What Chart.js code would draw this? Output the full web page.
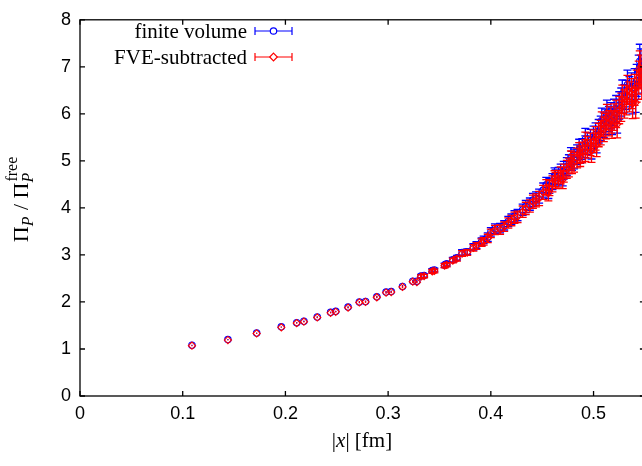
<!DOCTYPE html>
<html>
<head>
<meta charset="utf-8">
<script src="https://cdn.jsdelivr.net/npm/chart.js@4"></script>
<style>
  html, body { margin: 0; padding: 0; background: #fff; overflow: hidden; }
  canvas { display: block; }
</style>
</head>
<body>
<canvas id="piChart" width="650" height="466"></canvas>
<script>
// |x| in fm
const xVals = [
  0.109, 0.144, 0.172, 0.196, 0.211, 0.218, 0.231, 0.244, 0.249, 0.261,
  0.272, 0.278, 0.289, 0.298, 0.303, 0.314, 0.324, 0.328, 0.332, 0.335,
  0.343, 0.345, 0.355, 0.357, 0.363, 0.367, 0.372, 0.377, 0.383, 0.386,
  0.391, 0.393, 0.397, 0.400, 0.404, 0.409, 0.413, 0.417, 0.420, 0.423,
  0.426, 0.431, 0.434, 0.438, 0.441, 0.444, 0.447, 0.451, 0.454, 0.457,
  0.460, 0.463, 0.466, 0.468, 0.471, 0.474, 0.476, 0.479, 0.481, 0.484,
  0.487, 0.489, 0.492, 0.494, 0.497, 0.500, 0.502, 0.505, 0.507, 0.510,
  0.512, 0.515, 0.517, 0.520, 0.522, 0.525, 0.527, 0.530, 0.532, 0.535,
  0.537, 0.540, 0.542, 0.544, 0.545, 0.547, 0.498, 0.518, 0.528, 0.538,
  0.486, 0.508, 0.470, 0.478, 0.492, 0.503, 0.513, 0.523, 0.533, 0.541,
  0.546, 0.456, 0.462
];

// finite volume
const fvY = [
  1.08, 1.20, 1.34, 1.47, 1.56, 1.59, 1.68, 1.78, 1.80, 1.89,
  2.00, 2.01, 2.11, 2.21, 2.22, 2.33, 2.44, 2.44, 2.55, 2.56,
  2.67, 2.68, 2.78, 2.81, 2.90, 2.94, 3.05, 3.07, 3.17, 3.21,
  3.28, 3.32, 3.38, 3.49, 3.56, 3.57, 3.63, 3.71, 3.76, 3.82,
  3.85, 3.96, 4.03, 4.08, 4.17, 4.20, 4.25, 4.38, 4.49, 4.47,
  4.56, 4.64, 4.68, 4.75, 4.80, 4.88, 4.93, 5.00, 5.04, 5.13,
  5.17, 5.25, 5.30, 5.37, 5.43, 5.50, 5.56, 5.63, 5.69, 5.76,
  5.83, 5.89, 5.96, 6.03, 6.10, 6.18, 6.25, 6.32, 6.40, 6.47,
  6.55, 6.63, 6.71, 6.90, 7.12, 6.80, 5.28, 5.84, 6.42, 6.32,
  5.24, 5.86, 4.66, 5.08, 5.46, 5.42, 6.02, 5.88, 6.62, 6.36,
  7.02, 4.36, 4.68
];
const fvErr = [
  0.01, 0.01, 0.01, 0.01, 0.015, 0.015, 0.015, 0.015, 0.015, 0.02,
  0.02, 0.02, 0.02, 0.025, 0.025, 0.03, 0.03, 0.03, 0.035, 0.035,
  0.04, 0.04, 0.045, 0.045, 0.05, 0.05, 0.06, 0.06, 0.07, 0.07,
  0.08, 0.08, 0.09, 0.09, 0.10, 0.10, 0.10, 0.11, 0.11, 0.12,
  0.12, 0.12, 0.13, 0.13, 0.14, 0.14, 0.15, 0.15, 0.16, 0.16,
  0.17, 0.17, 0.18, 0.18, 0.19, 0.19, 0.20, 0.20, 0.21, 0.21,
  0.22, 0.22, 0.23, 0.23, 0.24, 0.24, 0.25, 0.25, 0.26, 0.26,
  0.27, 0.27, 0.28, 0.28, 0.29, 0.29, 0.30, 0.30, 0.31, 0.32,
  0.32, 0.33, 0.34, 0.35, 0.36, 0.36, 0.24, 0.28, 0.30, 0.32,
  0.22, 0.26, 0.19, 0.20, 0.23, 0.25, 0.27, 0.29, 0.31, 0.33,
  0.36, 0.16, 0.17
];

// FVE-subtracted
const subY = [
  1.07, 1.19, 1.33, 1.46, 1.55, 1.58, 1.67, 1.77, 1.79, 1.88,
  1.99, 2.00, 2.10, 2.20, 2.21, 2.32, 2.43, 2.42, 2.54, 2.55,
  2.65, 2.66, 2.77, 2.79, 2.88, 2.92, 3.03, 3.05, 3.15, 3.19,
  3.26, 3.29, 3.35, 3.46, 3.53, 3.54, 3.60, 3.68, 3.73, 3.79,
  3.81, 3.92, 3.99, 4.04, 4.13, 4.16, 4.20, 4.33, 4.44, 4.42,
  4.51, 4.58, 4.62, 4.69, 4.74, 4.82, 4.86, 4.93, 4.97, 5.06,
  5.10, 5.18, 5.22, 5.29, 5.35, 5.42, 5.48, 5.55, 5.60, 5.67,
  5.74, 5.80, 5.87, 5.93, 6.00, 6.08, 6.14, 6.21, 6.29, 6.36,
  6.43, 6.51, 6.59, 6.77, 6.98, 6.67, 5.21, 5.76, 6.31, 6.22,
  5.17, 5.78, 4.60, 5.01, 5.38, 5.34, 5.93, 5.78, 6.51, 6.24,
  6.89, 4.31, 4.62
];
const subErr = [
  0.01, 0.01, 0.01, 0.01, 0.015, 0.015, 0.015, 0.015, 0.015, 0.02,
  0.02, 0.02, 0.02, 0.025, 0.025, 0.03, 0.03, 0.03, 0.035, 0.035,
  0.04, 0.04, 0.045, 0.045, 0.05, 0.05, 0.06, 0.06, 0.07, 0.07,
  0.08, 0.08, 0.09, 0.09, 0.10, 0.10, 0.10, 0.11, 0.11, 0.12,
  0.12, 0.12, 0.13, 0.13, 0.14, 0.14, 0.15, 0.15, 0.16, 0.16,
  0.17, 0.17, 0.18, 0.18, 0.19, 0.19, 0.20, 0.20, 0.21, 0.21,
  0.22, 0.22, 0.23, 0.23, 0.24, 0.24, 0.25, 0.25, 0.26, 0.26,
  0.27, 0.27, 0.28, 0.28, 0.29, 0.29, 0.30, 0.30, 0.31, 0.32,
  0.32, 0.33, 0.34, 0.35, 0.36, 0.36, 0.24, 0.28, 0.30, 0.32,
  0.22, 0.26, 0.19, 0.20, 0.23, 0.25, 0.27, 0.29, 0.31, 0.33,
  0.36, 0.16, 0.17
];

const xTicks = [0, 0.1, 0.2, 0.3, 0.4, 0.5];
const yTicks = [0, 1, 2, 3, 4, 5, 6, 7, 8];
const seriesLabels = ['finite volume', 'FVE-subtracted'];
const seriesColors = ['#0000ff', '#ff0000'];
const seriesY = [fvY, subY];
const seriesErr = [fvErr, subErr];

const serif = '"Liberation Serif", "Times New Roman", serif';
const sans = '"Liberation Sans", Arial, sans-serif';

// vertical error bars, drawn just before each dataset's markers
const errorBars = {
  id: 'errorBars',
  beforeDatasetDraw(chart, args) {
    const i = args.index;
    const xs = chart.scales.x, ys = chart.scales.y;
    const c = chart.ctx;
    c.save();
    c.strokeStyle = seriesColors[i];
    c.lineWidth = 1.3;
    xVals.forEach((x, k) => {
      const px = xs.getPixelForValue(x);
      const top = ys.getPixelForValue(seriesY[i][k] + seriesErr[i][k]);
      const bot = ys.getPixelForValue(seriesY[i][k] - seriesErr[i][k]);
      c.beginPath();
      c.moveTo(px, top); c.lineTo(px, bot);
      if (bot - top > 3) {
        c.moveTo(px - 4, top); c.lineTo(px + 4, top);
        c.moveTo(px - 4, bot); c.lineTo(px + 4, bot);
      }
      c.stroke();
    });
    c.restore();
  }
};

// gnuplot style frame with inward ticks on all sides, titles and key
const frameAndKey = {
  id: 'frameAndKey',
  afterDraw(chart) {
    const c = chart.ctx;
    const a = chart.chartArea;
    const xs = chart.scales.x, ys = chart.scales.y;
    c.save();
    c.strokeStyle = '#000';
    c.lineWidth = 1.3;
    c.strokeRect(a.left, a.top, a.right - a.left, a.bottom - a.top);
    c.beginPath();
    xs.ticks.forEach(t => {
      const px = xs.getPixelForValue(t.value);
      c.moveTo(px, a.bottom); c.lineTo(px, a.bottom - 5);
      c.moveTo(px, a.top); c.lineTo(px, a.top + 5);
    });
    ys.ticks.forEach(t => {
      const py = ys.getPixelForValue(t.value);
      c.moveTo(a.left, py); c.lineTo(a.left + 5, py);
      c.moveTo(a.right, py); c.lineTo(a.right - 5, py);
    });
    c.stroke();

    c.fillStyle = '#000';
    c.textBaseline = 'alphabetic';

    // x title: |x| [fm]
    const pieces = [
      ['|', '21px ' + serif],
      ['x', 'italic 21px ' + serif],
      ['| [fm]', '21px ' + serif]
    ];
    let w = 0;
    pieces.forEach(p => { c.font = p[1]; w += c.measureText(p[0]).width; });
    let cx = 362 - w / 2;
    c.textAlign = 'left';
    pieces.forEach(p => { c.font = p[1]; c.fillText(p[0], cx, 447); cx += c.measureText(p[0]).width; });

    // y title: Pi_P / Pi_P^free
    c.save();
    c.translate(28, 200);
    c.rotate(-Math.PI / 2);
    const big = '22px ' + serif, small = '16px ' + serif, smallIt = 'italic 16px ' + serif;
    c.font = big; const wPi = c.measureText('\u03A0').width; const wSl = c.measureText(' / ').width;
    c.font = smallIt; const wP = c.measureText('P').width;
    c.font = small; const wFree = c.measureText('free').width;
    const total = wPi + wP + 1 + wSl + wPi + Math.max(wP, wFree);
    let tx = -total / 2;
    c.font = big; c.fillText('\u03A0', tx, 0); tx += wPi;
    c.font = smallIt; c.fillText('P', tx, 5); tx += wP + 1;
    c.font = big; c.fillText(' / ', tx, 0); tx += wSl;
    c.fillText('\u03A0', tx, 0); tx += wPi;
    c.font = smallIt; c.fillText('P', tx, 5);
    c.font = small; c.fillText('free', tx + 1, -11);
    c.restore();

    // key
    c.font = '21px ' + serif;
    c.textAlign = 'right';
    c.textBaseline = 'middle';
    [31, 57].forEach((ky, i) => {
      c.fillStyle = '#000';
      c.fillText(seriesLabels[i], 247, ky + 1);
      c.strokeStyle = seriesColors[i];
      c.lineWidth = 1.2;
      c.beginPath();
      c.moveTo(255, ky); c.lineTo(292, ky);
      c.moveTo(255, ky - 4); c.lineTo(255, ky + 4);
      c.moveTo(292, ky - 4); c.lineTo(292, ky + 4);
      c.stroke();
      c.fillStyle = '#fff';
      c.beginPath();
      if (i === 0) {
        c.arc(273.5, ky, 3.2, 0, Math.PI * 2);
      } else {
        c.moveTo(273.5, ky - 3.8); c.lineTo(277.3, ky);
        c.lineTo(273.5, ky + 3.8); c.lineTo(269.7, ky); c.closePath();
      }
      c.fill();
      c.stroke();
    });
    c.restore();
  }
};

new Chart(document.getElementById('piChart'), {
  type: 'scatter',
  data: {
    datasets: [
      {
        label: seriesLabels[0],
        data: xVals.map((x, k) => ({ x: x, y: fvY[k] })),
        borderColor: seriesColors[0],
        backgroundColor: 'rgba(255,255,255,0)',
        pointStyle: 'circle',
        pointRadius: 3.2,
        pointBorderWidth: 1.1,
        order: 2
      },
      {
        label: seriesLabels[1],
        data: xVals.map((x, k) => ({ x: x, y: subY[k] })),
        borderColor: seriesColors[1],
        backgroundColor: 'rgba(255,255,255,0)',
        pointStyle: 'rectRot',
        pointRadius: 3.6,
        pointBorderWidth: 1.1,
        order: 1
      }
    ]
  },
  options: {
    responsive: false,
    animation: false,
    layout: { padding: { left: 0, top: 12, right: 4.6, bottom: 0 } },
    plugins: { legend: { display: false }, tooltip: { enabled: false } },
    scales: {
      x: {
        type: 'linear',
        min: 0,
        max: 0.55,
        grid: { display: false, drawTicks: false, tickLength: 0 },
        border: { display: false },
        ticks: {
          padding: 7,
          color: '#000',
          font: { family: sans, size: 18 },
          maxRotation: 0,
          autoSkip: false,
          callback: v => String(Math.round(v * 10) / 10)
        },
        afterBuildTicks: scale => {
          scale.ticks = xTicks.map(v => ({ value: v }));
        },
        afterFit: scale => { scale.height = 70; }
      },
      y: {
        min: 0,
        max: 8,
        grid: { display: false, drawTicks: false, tickLength: 0 },
        border: { display: false },
        ticks: {
          padding: 9,
          color: '#000',
          font: { family: sans, size: 18 },
          autoSkip: false
        },
        afterBuildTicks: scale => {
          scale.ticks = yTicks.map(v => ({ value: v }));
        },
        afterFit: scale => { scale.width = 80; }
      }
    }
  },
  plugins: [errorBars, frameAndKey]
});
</script>
</body>
</html>
